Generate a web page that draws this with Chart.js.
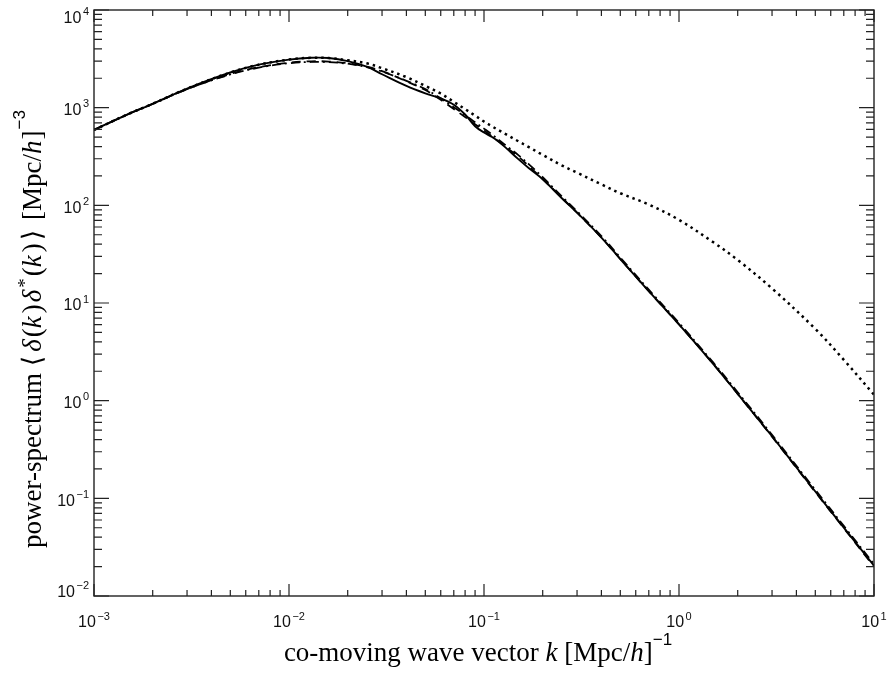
<!DOCTYPE html>
<html>
<head>
<meta charset="utf-8">
<script src="https://cdn.jsdelivr.net/npm/chart.js@4.4.0/dist/chart.umd.min.js"></script>
<style>
  html, body { margin: 0; padding: 0; background: #fff; }
  #wrap { width: 887px; height: 675px; }
</style>
</head>
<body>
<div id="wrap"><canvas id="spectrum" width="887" height="675"></canvas></div>
<script>
// co-moving wave vector k [Mpc/h]^-1, shared by all curves
const kValues = [0.001, 0.0015, 0.002, 0.003, 0.005, 0.007, 0.01, 0.013, 0.016, 0.02,
  0.025, 0.03, 0.04, 0.05, 0.06, 0.07, 0.08, 0.09, 0.1, 0.11, 0.12, 0.13, 0.15, 0.17,
  0.2, 0.25, 0.3, 0.4, 0.5, 0.7, 1, 1.5, 2, 3, 5, 7, 10];

// power spectrum values [Mpc/h]^3
const pSolid = [592, 861, 1096, 1567, 2291, 2754, 3105, 3243, 3221, 3000,
  2630, 2198, 1667, 1400, 1245, 1072, 851, 646, 556, 501, 442, 385, 297, 240,
  185, 119, 84.1, 46.8, 28.2, 13.2, 6.03, 2.37, 1.175, 0.432, 0.1175, 0.0501, 0.0204];
const pDashed = [592, 861, 1096, 1549, 2213, 2600, 2884, 2985, 2965, 2851,
  2630, 2371, 1862, 1514, 1202, 968, 802, 676, 586, 507, 444, 393, 316, 251,
  186, 120, 84.1, 46.8, 28.2, 13.2, 6.03, 2.37, 1.17, 0.428, 0.116, 0.0495, 0.0199];
const pDashDot = [592, 861, 1096, 1549, 2188, 2570, 2851, 2938, 2924, 2818,
  2600, 2344, 1884, 1549, 1245, 1012, 841, 708, 610, 531, 462, 407, 327, 263,
  194, 124, 87.0, 48.5, 29.2, 13.7, 6.25, 2.45, 1.22, 0.447, 0.122, 0.0522, 0.0212];
const pDotted = [592, 861, 1096, 1567, 2291, 2754, 3105, 3243, 3221, 3055,
  2844, 2535, 2056, 1671, 1396, 1148, 966, 829, 721, 643, 582, 532, 453, 394,
  328, 257, 216, 164, 133, 102, 71, 41.8, 27.6, 14.1, 5.43, 2.62, 1.15];

// decade exponents for the tick labels
const xTickExps = [-3, -2, -1, 0, 1];
const yTickExps = [-2, -1, 0, 1, 2, 3, 4];

const SANS = '"Liberation Sans", Arial, sans-serif';
const SERIF = '"Liberation Serif", "DejaVu Serif", serif';

function toPoints(values) {
    return kValues.map((k, i) => ({ x: k, y: values[i] }));
}

function curve(values, dash, width) {
    return {
        data: toPoints(values),
        borderColor: '#000',
        borderWidth: width,
        borderDash: dash,
        borderCapStyle: 'butt',
        pointRadius: 0,
        showLine: true,
        fill: false,
        tension: 0.35
    };
}

// text with a raised exponent, e.g. 10^-2
function powerLabel(ctx, exp, x, baseline, align) {
    const base = '10';
    const sup = exp < 0 ? '\u2212' + Math.abs(exp) : String(exp);
    ctx.font = '16px ' + SANS;
    const wb = ctx.measureText(base).width;
    ctx.font = '11px ' + SANS;
    const ws = ctx.measureText(sup).width;
    const total = wb + 1.5 + ws;
    let start = align === 'center' ? x - total / 2 : x - total;
    ctx.textAlign = 'left';
    ctx.textBaseline = 'alphabetic';
    ctx.font = '16px ' + SANS;
    ctx.fillText(base, start, baseline);
    ctx.font = '11px ' + SANS;
    ctx.fillText(sup, start + wb + 1.5, baseline - 7.5);
}

// mixed-font title, centred on (0, 0) of the current transform
function segmentTitle(ctx, segs) {
    let total = 0;
    segs.forEach(s => { ctx.font = s.f; s.w = ctx.measureText(s.t).width + (s.gap || 0); total += s.w; });
    let pos = -total / 2;
    ctx.textAlign = 'left';
    ctx.textBaseline = 'alphabetic';
    segs.forEach(s => {
        ctx.font = s.f;
        ctx.fillText(s.t, pos, s.dy || 0);
        pos += s.w;
    });
}

function tickValues(minExp, maxExp) {
    const major = [], minor = [];
    for (let e = minExp; e <= maxExp; e++) {
        major.push(Math.pow(10, e));
        if (e < maxExp) {
            for (let m = 2; m <= 9; m++) minor.push(m * Math.pow(10, e));
        }
    }
    return { major, minor };
}

const idlFrame = {
    id: 'idlFrame',
    afterDatasetsDraw(chart) {
        const { ctx, chartArea: a, scales: { x, y } } = chart;
        ctx.save();
        ctx.strokeStyle = '#222';
        ctx.lineWidth = 1.4;
        ctx.strokeRect(a.left, a.top, a.right - a.left, a.bottom - a.top);

        // inward ticks on all four sides
        const xt = tickValues(-3, 1);
        const yt = tickValues(-2, 4);
        ctx.lineWidth = 1.2;
        ctx.beginPath();
        const xTick = (v, len) => {
            const px = x.getPixelForValue(v);
            ctx.moveTo(px, a.bottom); ctx.lineTo(px, a.bottom - len);
            ctx.moveTo(px, a.top); ctx.lineTo(px, a.top + len);
        };
        const yTick = (v, len) => {
            const py = y.getPixelForValue(v);
            ctx.moveTo(a.left, py); ctx.lineTo(a.left + len, py);
            ctx.moveTo(a.right, py); ctx.lineTo(a.right - len, py);
        };
        xt.major.forEach(v => xTick(v, 12));
        xt.minor.forEach(v => xTick(v, 6));
        yt.major.forEach(v => yTick(v, 15));
        yt.minor.forEach(v => yTick(v, 8));
        ctx.stroke();

        ctx.fillStyle = '#111';
        xTickExps.forEach(e => {
            powerLabel(ctx, e, x.getPixelForValue(Math.pow(10, e)), 627, 'center');
        });
        yTickExps.forEach(e => {
            let c = y.getPixelForValue(Math.pow(10, e)) + 1.5;
            c = Math.min(Math.max(c, a.top + 7), a.bottom - 5);
            powerLabel(ctx, e, 89, c + 5.8, 'right');
        });

        // axis titles
        const n = '27px ' + SERIF, it = 'italic 27px ' + SERIF, sup = '17px ' + SANS;
        ctx.fillStyle = '#000';
        ctx.save();
        ctx.translate(478, 661);
        segmentTitle(ctx, [
            { t: 'co-moving wave vector ', f: n }, { t: 'k', f: it },
            { t: ' [Mpc/', f: n }, { t: 'h', f: it }, { t: ']', f: n },
            { t: '\u22121', f: sup, dy: -16 }
        ]);
        ctx.restore();

        ctx.save();
        ctx.translate(41, 329);
        ctx.rotate(-Math.PI / 2);
        segmentTitle(ctx, [
            { t: 'power-spectrum ', f: n }, { t: '\u27E8', f: n, gap: 4 }, { t: '\u03B4', f: it, gap: 2 },
            { t: '(', f: n }, { t: 'k', f: it, gap: 3 }, { t: ')', f: n, gap: 2 }, { t: '\u03B4', f: it, gap: 2 },
            { t: '*', f: '19px ' + SERIF, dy: -10, gap: 2 }, { t: '(', f: n }, { t: 'k', f: it, gap: 3 },
            { t: ')', f: n, gap: 3 }, { t: '\u27E9', f: n, gap: 3 }, { t: ' [Mpc/', f: n },
            { t: 'h', f: it, gap: 1 }, { t: ']', f: n, gap: 1 },
            { t: '\u22123', f: sup, dy: -16 }
        ]);
        ctx.restore();
        ctx.restore();
    }
};

new Chart(document.getElementById('spectrum'), {
    type: 'scatter',
    data: {
        datasets: [
            curve(pDotted, [2.5, 4], 2.5),
            curve(pDashDot, [9, 4, 2, 4], 1.8),
            curve(pDashed, [9, 6], 1.8),
            curve(pSolid, [], 1.9)
        ]
    },
    options: {
        responsive: false,
        animation: false,
        devicePixelRatio: 1,
        layout: { padding: { left: 94, top: 10, right: 13, bottom: 79 } },
        plugins: { legend: { display: false }, tooltip: { enabled: false } },
        scales: {
            x: { type: 'logarithmic', min: 0.001, max: 10, display: false },
            y: { type: 'logarithmic', min: 0.01, max: 10000, display: false }
        }
    },
    plugins: [idlFrame]
});
</script>
</body>
</html>
